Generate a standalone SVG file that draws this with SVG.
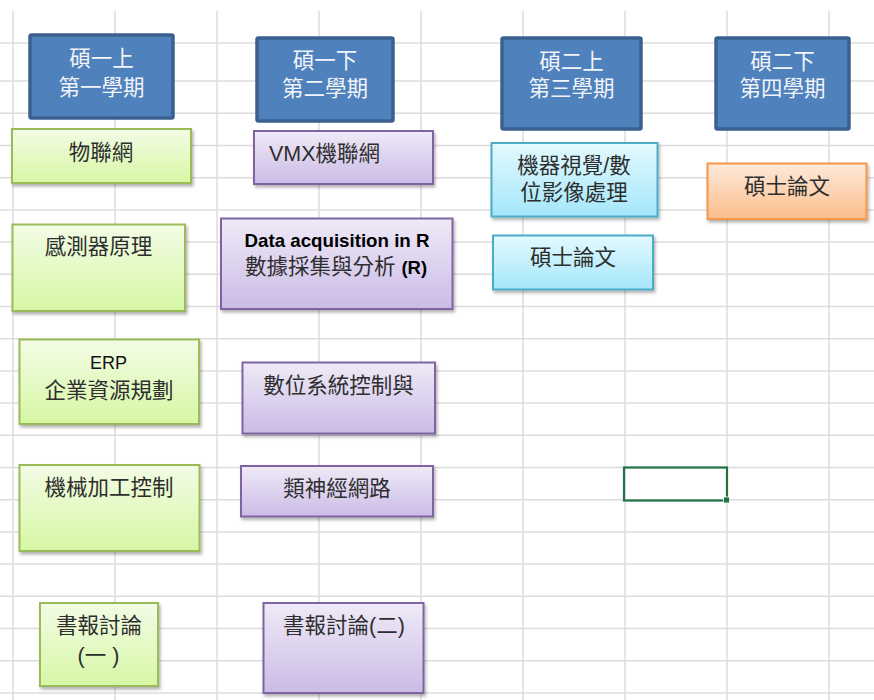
<svg xmlns="http://www.w3.org/2000/svg" width="874" height="700" viewBox="0 0 874 700">
<defs>
<linearGradient id="gGreen" x1="0" y1="0" x2="0" y2="1"><stop offset="0" stop-color="#f3fce6"/><stop offset="1" stop-color="#d6f7a4"/></linearGradient>
<linearGradient id="gPurple" x1="0" y1="0" x2="0" y2="1"><stop offset="0" stop-color="#efeaf7"/><stop offset="1" stop-color="#cbbbe6"/></linearGradient>
<linearGradient id="gCyan" x1="0" y1="0" x2="0" y2="1"><stop offset="0" stop-color="#e3f9fe"/><stop offset="1" stop-color="#a4e7fa"/></linearGradient>
<linearGradient id="gOrange" x1="0" y1="0" x2="0" y2="1"><stop offset="0" stop-color="#feeadb"/><stop offset="1" stop-color="#fbbd8b"/></linearGradient>
<filter id="sh" x="-10%" y="-10%" width="130%" height="140%"><feDropShadow dx="1.5" dy="2.5" stdDeviation="1.5" flood-color="#000" flood-opacity="0.3"/></filter>
</defs>
<style>
.grid line{stroke:#dcdcdc;stroke-width:1.5}
.hdr{fill:#4f81bd;stroke:#3b6090;stroke-width:3.5}
.green{fill:url(#gGreen);stroke:#9bbb59;stroke-width:2}
.purple{fill:url(#gPurple);stroke:#8064a2;stroke-width:2}
.cyan{fill:url(#gCyan);stroke:#4bacc6;stroke-width:2}
.orange{fill:url(#gOrange);stroke:#f79646;stroke-width:2}
text{font-family:"Liberation Sans","Noto Sans CJK TC",sans-serif;font-size:21.5px;fill:#2e2e2e;text-anchor:middle}
.ht{fill:#f2f4f8}
.lat{font-size:18px;fill:#111}
.b{font-weight:bold;font-size:18.5px;fill:#000}
</style>
<rect width="874" height="700" fill="#fff"/>
<g class="grid">
<line x1="13" y1="11" x2="13" y2="700"/><line x1="115" y1="11" x2="115" y2="700"/><line x1="217" y1="11" x2="217" y2="700"/><line x1="319" y1="11" x2="319" y2="700"/><line x1="421" y1="11" x2="421" y2="700"/><line x1="523" y1="11" x2="523" y2="700"/><line x1="625" y1="11" x2="625" y2="700"/><line x1="727" y1="11" x2="727" y2="700"/><line x1="829" y1="11" x2="829" y2="700"/>
<line x1="0" y1="43" x2="874" y2="43"/><line x1="0" y1="81" x2="874" y2="81"/><line x1="0" y1="113.3" x2="874" y2="113.3"/><line x1="0" y1="145.5" x2="874" y2="145.5"/><line x1="0" y1="177.7" x2="874" y2="177.7"/><line x1="0" y1="209.9" x2="874" y2="209.9"/><line x1="0" y1="242.1" x2="874" y2="242.1"/><line x1="0" y1="274.3" x2="874" y2="274.3"/><line x1="0" y1="306.5" x2="874" y2="306.5"/><line x1="0" y1="338.7" x2="874" y2="338.7"/><line x1="0" y1="370.9" x2="874" y2="370.9"/><line x1="0" y1="403.1" x2="874" y2="403.1"/><line x1="0" y1="435.3" x2="874" y2="435.3"/><line x1="0" y1="467.5" x2="874" y2="467.5"/><line x1="0" y1="499.7" x2="874" y2="499.7"/><line x1="0" y1="531.9" x2="874" y2="531.9"/><line x1="0" y1="564.1" x2="874" y2="564.1"/><line x1="0" y1="596.3" x2="874" y2="596.3"/><line x1="0" y1="628.5" x2="874" y2="628.5"/><line x1="0" y1="660.7" x2="874" y2="660.7"/><line x1="0" y1="692.9" x2="874" y2="692.9"/>
</g>
<g id="sel">
<rect x="624" y="467.5" width="103" height="33" fill="none" stroke="#217346" stroke-width="2.2"/>
<rect x="723.5" y="497" width="6" height="6" fill="#217346" stroke="#fff" stroke-width="0.8"/>
</g>
<g id="connectors"/>
<g id="h1"><rect class="hdr" x="30" y="35" width="143" height="83" rx="1.5"/><text class="ht" x="101.5" y="65.5">碩一上</text><text class="ht" x="101.5" y="94.5">第一學期</text></g>
<g id="h2"><rect class="hdr" x="257" y="38" width="136" height="83" rx="1.5"/><text class="ht" x="325" y="67.5">碩一下</text><text class="ht" x="325" y="96">第二學期</text></g>
<g id="h3"><rect class="hdr" x="502" y="38" width="139" height="91" rx="1.5"/><text class="ht" x="571.5" y="69">碩二上</text><text class="ht" x="571.5" y="96">第三學期</text></g>
<g id="h4"><rect class="hdr" x="716" y="38" width="133" height="91" rx="1.5"/><text class="ht" x="782.5" y="69">碩二下</text><text class="ht" x="782.5" y="96">第四學期</text></g>
<g id="g1"><rect class="green" filter="url(#sh)" x="12" y="129" width="179" height="54"/><text x="101" y="159.5">物聯網</text></g>
<g id="g2"><rect class="green" filter="url(#sh)" x="12.5" y="224.5" width="172.5" height="86.5"/><text x="98.5" y="254">感測器原理</text></g>
<g id="g3"><rect class="green" filter="url(#sh)" x="19.5" y="339.5" width="179.5" height="84.5"/><text class="lat" x="108.5" y="368.5">ERP</text><text x="109" y="397.5">企業資源規劃</text></g>
<g id="g4"><rect class="green" filter="url(#sh)" x="19.5" y="465" width="180" height="86"/><text x="109" y="495">機械加工控制</text></g>
<g id="g5"><rect class="green" filter="url(#sh)" x="40" y="603" width="118" height="83"/><text x="99" y="632.5">書報討論</text><text x="98.5" y="662.5">(一 )</text></g>
<g id="p1"><rect class="purple" filter="url(#sh)" x="254" y="131" width="179" height="53"/><text x="269" y="160.5" style="text-anchor:start">VMX機聯網</text></g>
<g id="p2"><rect class="purple" filter="url(#sh)" x="221" y="218.5" width="231.5" height="90.5"/><text class="b" x="337" y="247" textLength="185" lengthAdjust="spacingAndGlyphs">Data acquisition in R</text><text x="336" y="274">數據採集與分析 <tspan class="b">(R)</tspan></text></g>
<g id="p3"><rect class="purple" filter="url(#sh)" x="242.5" y="362.5" width="192.5" height="71"/><text x="338.5" y="393">數位系統控制與</text></g>
<g id="p4"><rect class="purple" filter="url(#sh)" x="241" y="466" width="192" height="50.5"/><text x="337" y="496">類神經網路</text></g>
<g id="p5"><rect class="purple" filter="url(#sh)" x="263.5" y="603" width="160" height="90"/><text x="344" y="632.5">書報討論(二)</text></g>
<g id="c1"><rect class="cyan" filter="url(#sh)" x="491.5" y="143" width="166" height="73.5"/><text x="574" y="172.5">機器視覺/數</text><text x="574" y="200">位影像處理</text></g>
<g id="c2"><rect class="cyan" filter="url(#sh)" x="493" y="235.5" width="160" height="54"/><text x="573" y="265">碩士論文</text></g>
<g id="o1"><rect class="orange" filter="url(#sh)" x="707.5" y="163.5" width="159" height="55.5"/><text x="787" y="194">碩士論文</text></g>
</svg>
